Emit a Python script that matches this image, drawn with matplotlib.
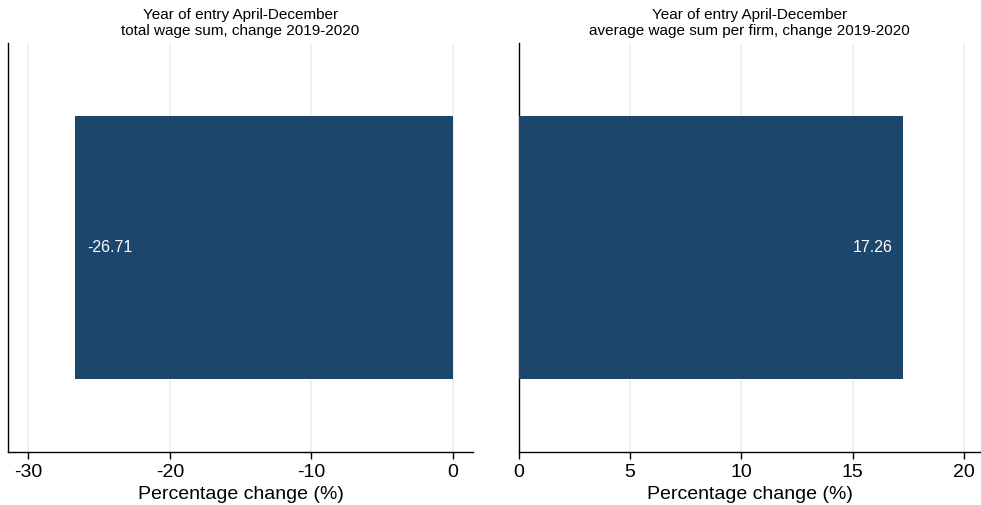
import matplotlib.pyplot as plt

plt.rcParams['font.family'] = ['Liberation Sans', 'DejaVu Sans']
plt.rcParams['axes.unicode_minus'] = False

titles = ["Year of entry April-December\ntotal wage sum, change 2019-2020",
          "Year of entry April-December\naverage wage sum per firm, change 2019-2020"]
values = [-26.71, 17.26]
xticks = [[-30, -20, -10, 0], [0, 5, 10, 15, 20]]
xlims = [(-31.43, 1.41), (0, 20.73)]
bar_color = '#1c466c'

fig = plt.figure(figsize=(9.81, 5.05), dpi=100)
axes = [fig.add_axes([0.0082, 0.105, 0.474, 0.81]),
        fig.add_axes([0.529, 0.105, 0.470, 0.81])]

for ax, title, v, ticks, lim in zip(axes, titles, values, xticks, xlims):
    ax.barh([1], [v], height=0.645, color=bar_color, zorder=3)
    ax.set_xlim(*lim)
    ax.set_ylim(0.5, 1.5)
    ax.set_xticks(ticks)
    ax.set_yticks([])
    ax.grid(axis='x', color='#e8f0f2', linewidth=1.2, zorder=0)
    for s in ['top', 'right']:
        ax.spines[s].set_visible(False)
    ax.spines['left'].set_linewidth(1)
    ax.spines['bottom'].set_linewidth(1)
    ax.tick_params(axis='x', labelsize=14, length=5, width=1, pad=4)
    ax.set_xlabel('Percentage change (%)', fontsize=14, labelpad=3)
    ax.set_title(title, fontsize=11, pad=6, linespacing=1.15)
    if v < 0:
        ax.annotate(f'{v:.2f}', xy=(v, 1), xytext=(9, 0), textcoords='offset points',
                    ha='left', va='center', color='white', fontsize=11.5, zorder=4)
    else:
        ax.annotate(f'{v:.2f}', xy=(v, 1), xytext=(-7, 0), textcoords='offset points',
                    ha='right', va='center', color='white', fontsize=11.5, zorder=4)

fig.savefig('out.png', dpi=100)
